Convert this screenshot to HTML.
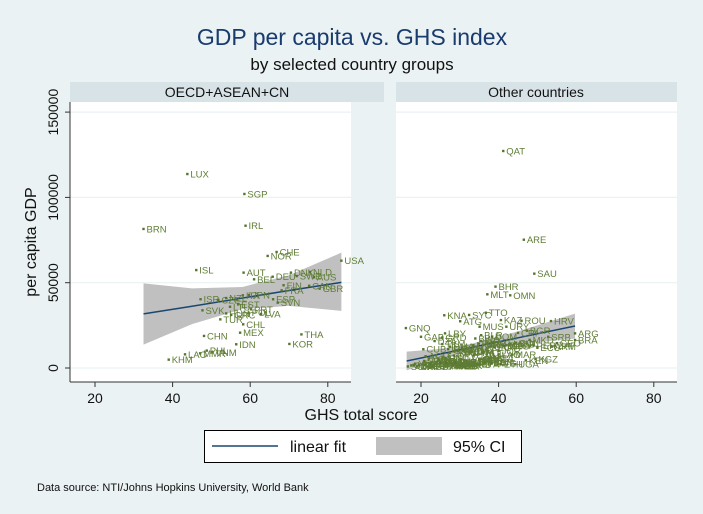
<!DOCTYPE html>
<html><head><meta charset="utf-8"><style>
html,body{margin:0;padding:0;background:#eaf2f3}
svg{display:block;font-family:"Liberation Sans",Arial,sans-serif}
</style></head><body>
<svg id="chart" width="703" height="514" viewBox="0 0 703 514" xmlns="http://www.w3.org/2000/svg">
<rect x="0" y="0" width="703" height="514" fill="#eaf2f3"/>
<text x="352" y="45" text-anchor="middle" font-size="23" fill="#1a3b6e">GDP per capita vs. GHS index</text>
<text x="352" y="70" text-anchor="middle" font-size="17" fill="#111">by selected country groups</text>
<rect x="70" y="82" width="314" height="20" fill="#d8e3e8"/>
<text x="227" y="97" text-anchor="middle" font-size="14" fill="#111">OECD+ASEAN+CN</text>
<rect x="396" y="82" width="281" height="20" fill="#d8e3e8"/>
<text x="536" y="97" text-anchor="middle" font-size="14" fill="#111">Other countries</text>
<rect x="70" y="102" width="281" height="280" fill="#fff"/>
<rect x="396" y="102" width="281" height="280" fill="#fff"/>
<g id="grid"></g>
<g id="ci"></g>
<g id="fit"></g>
<g id="pts"></g>
<g id="axes"></g>
<text x="361" y="420" text-anchor="middle" font-size="16" fill="#111">GHS total score</text>
<text transform="translate(36,242) rotate(-90)" text-anchor="middle" font-size="16" fill="#111">per capita GDP</text>
<g>
<rect x="204.5" y="430.5" width="317" height="32" fill="#fff" stroke="#000" stroke-width="1"/>
<line x1="212" y1="446" x2="278" y2="446" stroke="#1a476f" stroke-width="1.5"/>
<text x="290" y="452" font-size="16" fill="#111">linear fit</text>
<rect x="376" y="437" width="66" height="18" fill="#c0c0c0"/>
<text x="453" y="452" font-size="16" fill="#111">95% CI</text>
</g>
<text x="37" y="491" font-size="11" fill="#111">Data source: NTI/Johns Hopkins University, World Bank</text>
</svg>
<script>
// ---- data ----
const xTicks = [20, 40, 60, 80];
const yTicks = [0, 50000, 100000, 150000];
const leftCodes = ["LUX","SGP","BRN","IRL","CHE","NOR","USA","ISL","AUT","BEL","DEU","DNK","SWE","NLD","AUS","FIN","CAN","GBR","FRA","JPN","ITA","ISR","CZE","NZL","ESP","SVN","SVK","EST","LTU","PRT","POL","HUN","GRC","LVA","TUR","CHL","MEX","CHN","THA","IDN","KOR","PHL","VNM","MMR","LAO","KHM"];
const leftGhs = [43.8,58.5,32.5,58.8,66.8,64.5,83.5,46.1,58.3,61.0,65.8,70.5,72.0,75.4,76.4,68.6,75.2,77.9,68.1,59.7,58.1,47.2,51.8,53.8,65.9,67.1,47.7,56.9,54.8,60.2,59.6,53.8,55.1,62.8,52.3,58.2,57.4,48.1,73.2,56.4,70.1,48.8,50.3,47.1,43.2,39.0];
const leftGdp = [113700,102000,81500,83400,68000,65700,62900,57400,55900,52000,53500,55900,53900,56300,53200,48500,48200,46500,45500,42800,42600,40300,39900,41000,40300,38300,33800,37300,35900,34400,32400,32000,31100,31700,28500,25600,20700,18800,19700,13900,14100,10200,9200,8600,8000,4900];
const rightCodes = ["QAT","ARE","SAU","BHR","MLT","OMN","KNA","SYC","TTO","ATG","KAZ","ROU","HRV","GNQ","LBY","MUS","URY","BGR","GAB","ARG","BRA","SRB","ARM","DZA","GRD","BLR","PER","MKD","KGZ","TJK","DMA","IRN","COL","ZAF","CRI","ECU","PRY","GEO","UKR","MAR","EGY","TUN","JOR","LBN","BIH","ALB","MDA","NAM","BWA","GHA","KEN","NGA","PAK","BGD","NPL","LKA","SEN","CIV","CMR","UGA","TZA","ETH","ZMB","ZWE","MOZ","MDG","MLI","BFA","NER","TCD","SDN","YEM","AFG","HTI","SLE","LBR","GIN","SOM","PNG","FJI","BOL","HND","GTM","SLV","NIC","DOM","JAM","CUB","VEN","AGO","BEN","TGO","RWA","MWI","BDI","CAF","COG","COD","GMB","GNB","MRT","LSO","SWZ","KHM2","UZB","TKM","AZE","MNG","SYR","IRQ","LAO2","BTN","SLB","VUT","TLS","COM","DJI","ERI","SSD","CPV"];
const rightGhs = [41.2,46.5,49.2,39.2,37.1,43.0,26.0,32.4,36.7,30.1,40.6,45.9,53.5,16.1,26.2,35.1,42.0,47.3,20.0,59.7,59.7,52.8,53.7,23.5,25.5,35.5,49.0,48.0,49.5,32.0,27.5,37.0,44.5,54.5,45.0,50.0,36.0,55.0,38.0,43.5,39.0,33.0,40.0,43.0,35.5,44.0,42.0,31.0,34.0,35.0,47.0,37.8,35.5,35.0,35.1,33.5,37.9,35.3,34.0,44.3,36.4,40.6,28.5,38.2,28.1,28.2,29.0,34.8,29.2,20.8,20.8,18.5,32.3,18.2,26.7,30.3,30.2,16.6,24.6,34.9,35.8,26.3,32.7,27.4,37.7,38.3,33.1,20.6,28.6,21.2,24.0,26.0,30.0,27.0,23.0,19.0,25.0,22.0,28.0,21.0,24.5,27.5,29.5,31.5,33.5,25.5,38.5,41.5,23.5,27.0,40.0,30.5,22.5,26.5,29.0,25.0,22.0,19.5,17.5,28.5];
const rightGdp = [127200,75200,55300,47700,43200,42600,30900,31100,32400,27400,28100,27700,27500,23400,20300,24200,24200,21900,18300,20300,16400,18300,12500,15800,17900,19200,13300,16500,5200,3500,12500,14200,14800,13100,20600,11900,13500,14600,12600,7800,12100,11200,10100,14300,15800,14200,13300,10500,17300,5400,4500,5800,5100,4800,3800,13400,3400,5200,3700,2200,2800,2300,3500,2900,1300,1600,2300,2200,1200,1600,4100,2500,2100,1800,1700,1400,2700,900,4300,14300,8700,5800,9000,8800,5600,18400,9700,11000,9800,6900,3400,1700,2300,1100,800,900,3800,1100,2300,2000,5600,3100,9800,4500,7300,14000,15000,12800,2500,11000,8000,11500,2600,3100,3200,3100,5500,1700,1500,7300];
// fit lines and 95% CI bounds
const leftFitX = [32.5,45,58,70,83.5];
const leftFitY = [31700,36200,41000,45400,50200];
const leftCiHi = [49600,46700,47500,54400,67600];
const leftCiLo = [13700,25700,34500,36400,33500];
const rightFitX = [16.3,25,33,45,59.7];
const rightFitY = [4100,8200,12000,17700,24600];
const rightCiHi = [9600,11200,14200,21500,31900];
const rightCiLo = [-1400,5200,9800,13900,17300];

// ---- scales ----
const xL = v => 17.4 + 3.88 * v;
const xR = v => 343.4 + 3.88 * v;
const yS = v => 368 - v * 85.3 / 50000;
const NS = "http://www.w3.org/2000/svg";
function mk(tag, attrs, parent){
  const el = document.createElementNS(NS, tag);
  for (const k in attrs) el.setAttribute(k, attrs[k]);
  parent.appendChild(el);
  return el;
}
const grid = document.getElementById('grid');
const ciG = document.getElementById('ci');
const fitG = document.getElementById('fit');
const ptsG = document.getElementById('pts');
const axG = document.getElementById('axes');

yTicks.forEach(t => {
  [[70,351],[396,677]].forEach(([a,b]) => {
    const l = mk('line', {x1:a, x2:b, y1:yS(t), y2:yS(t), stroke:'#eaf2f3', 'stroke-width':1.2}, grid);
    
    
  });
});

function band(xs, hi, lo, xf, name){
  let d = '';
  xs.forEach((x,i) => { d += (i ? 'L' : 'M') + xf(x) + ',' + yS(hi[i]); });
  for (let i = xs.length - 1; i >= 0; i--) d += 'L' + xf(xs[i]) + ',' + yS(lo[i]);
  const p = mk('path', {d: d + 'Z', fill:'#c0c0c0'}, ciG);
  
  
}
function line(xs, ys, xf, name){
  const pl = mk('polyline', {points: xs.map((x,i) => xf(x) + ',' + yS(ys[i])).join(' '), fill:'none', stroke:'#1a476f', 'stroke-width':1.5}, fitG);
  
  
}
band(leftFitX, leftCiHi, leftCiLo, xL, 'left-ci-band');
band(rightFitX, rightCiHi, rightCiLo, xR, 'right-ci-band');
line(leftFitX, leftFitY, xL, 'left-fit-line');
line(rightFitX, rightFitY, xR, 'right-fit-line');

function points(codes, xs, ys, xf){
  codes.forEach((c,i) => {
    const px = xf(xs[i]), py = yS(ys[i]);
    const r = mk('rect', {x:px-1.2, y:py-1.2, width:2.4, height:2.4, fill:'#55752f'}, ptsG);
    
    
    const t = mk('text', {x:px+3, y:py+3.5, 'font-size':9.5, fill:'#5f7d35'}, ptsG);
    t.textContent = c.replace(/\d/g, '');
    
    
  });
}
points(leftCodes, leftGhs, leftGdp, xL);
points(rightCodes, rightGhs, rightGdp, xR);

const yAx = mk('line', {x1:70, x2:70, y1:102, y2:382, stroke:'#333', 'stroke-width':1}, axG);


[[70,351,xL,'left'],[396,677,xR,'right']].forEach(([a,b,xf,s]) => {
  const ax = mk('line', {x1:a, x2:b, y1:382, y2:382, stroke:'#333', 'stroke-width':1}, axG);
  
  
  xTicks.forEach(t => {
    const tk = mk('line', {x1:xf(t), x2:xf(t), y1:382, y2:387, stroke:'#333'}, axG);
    
    
    const tl = mk('text', {x:xf(t), y:403, 'text-anchor':'middle', 'font-size':14, fill:'#111'}, axG);
    tl.textContent = t;
    
    
  });
});
yTicks.forEach(t => {
  const tk = mk('line', {x1:65, x2:70, y1:yS(t), y2:yS(t), stroke:'#333'}, axG);
  
  
  const tl = mk('text', {transform:'translate(58,' + yS(t) + ') rotate(-90)', 'text-anchor':'middle', 'font-size':14, fill:'#111'}, axG);
  tl.textContent = t;
  
  
});
</script>
</body></html>
